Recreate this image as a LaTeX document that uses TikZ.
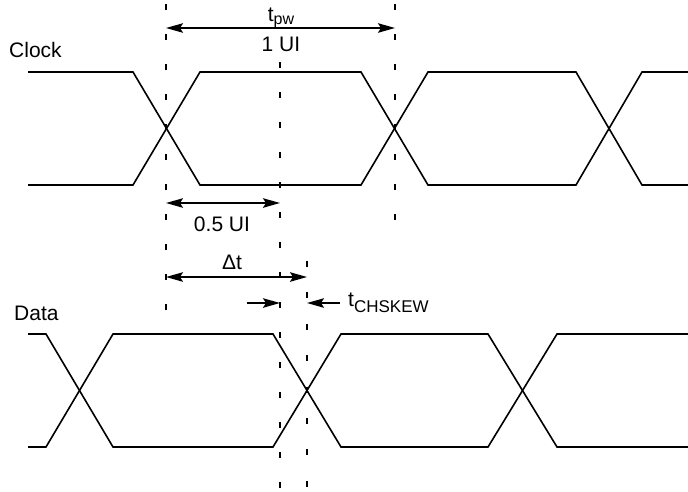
\documentclass[tikz,border=0pt]{standalone}
\usepackage{fontspec}
\setmainfont{Liberation Sans}
\usetikzlibrary{arrows.meta}
\begin{document}
\begin{tikzpicture}[x=1pt,y=-1pt,
  wave/.style={line width=1.6pt, line join=miter},
  guide/.style={line width=1.5pt, dash pattern=on 6pt off 24pt},
  dimline/.style={line width=1.6pt, {Stealth[length=17pt,width=9.5pt,inset=3pt]}-{Stealth[length=17pt,width=9.5pt,inset=3pt]}},
  oneway/.style={line width=1.6pt, -{Stealth[length=17pt,width=9.5pt,inset=3pt]}},
  lbl/.style={font=\fontsize{21}{25}\selectfont, inner sep=0pt, anchor=base},
]
\useasboundingbox (0,0) rectangle (688,491);

% guide lines
\coordinate (g1t) at (166,4);  \coordinate (g1b) at (166,310);
\coordinate (g2t) at (395,4);  \coordinate (g2b) at (395,220);
\coordinate (g3t) at (280,62); \coordinate (g3b) at (280,488);
\coordinate (g4t) at (307,261);\coordinate (g4b) at (307,488);
\draw[guide] (g1t) -- (g1b);
\draw[guide] (g2t) -- (g2b);
\draw[guide] (g3t) -- (g3b);
\draw[guide, dash pattern=on 6pt off 25.4pt] (g4t) -- (g4b);

% clock waveform
\draw[wave] (28,72) -- (133,72) -- (200,185) -- (361,185) -- (428,72) -- (576,72) -- (642,185) -- (688,185);
\draw[wave] (28,185) -- (133,185) -- (200,72) -- (361,72) -- (428,185) -- (576,185) -- (642,72) -- (688,72);

% data waveform
\draw[wave] (28,334) -- (46,334) -- (113,447) -- (273,447) -- (341,334) -- (488,334) -- (557,447) -- (688,447);
\draw[wave] (28,447) -- (46,447) -- (113,334) -- (273,334) -- (341,447) -- (488,447) -- (557,334) -- (688,334);

% dimension arrows
\coordinate (pwL) at (166,28);   \coordinate (pwR) at (395,28);
\coordinate (hL) at (166,203);   \coordinate (hR) at (280,203);
\coordinate (dL) at (166,277);   \coordinate (dR) at (307,277);
\coordinate (sk1s) at (247,303); \coordinate (sk1e) at (280,303);
\coordinate (sk2s) at (340,303); \coordinate (sk2e) at (307,303);
\draw[dimline] (pwL) -- (pwR);
\draw[dimline] (hL) -- (hR);
\draw[dimline] (dL) -- (dR);
\draw[oneway] (sk1s) -- (sk1e);
\draw[oneway] (sk2s) -- (sk2e);

% labels
\node[lbl] (tpw) at (281,21) {t\raisebox{-3pt}{\fontsize{16}{16}\selectfont pw}};
\node[lbl] (oneui) at (281,51) {1 UI};
\node[lbl] (halfui) at (222,231) {0.5 UI};
\node[lbl] (dt) at (232,269) {Δt};
\node[lbl, anchor=base west] (tsk) at (348,306) {t\raisebox{-6pt}{\fontsize{17}{17}\selectfont CHSKEW}};
\node[lbl, anchor=base west] (clk) at (9,57) {Clock};
\node[lbl, anchor=base west] (dat) at (14,320) {Data};
\end{tikzpicture}
\end{document}
